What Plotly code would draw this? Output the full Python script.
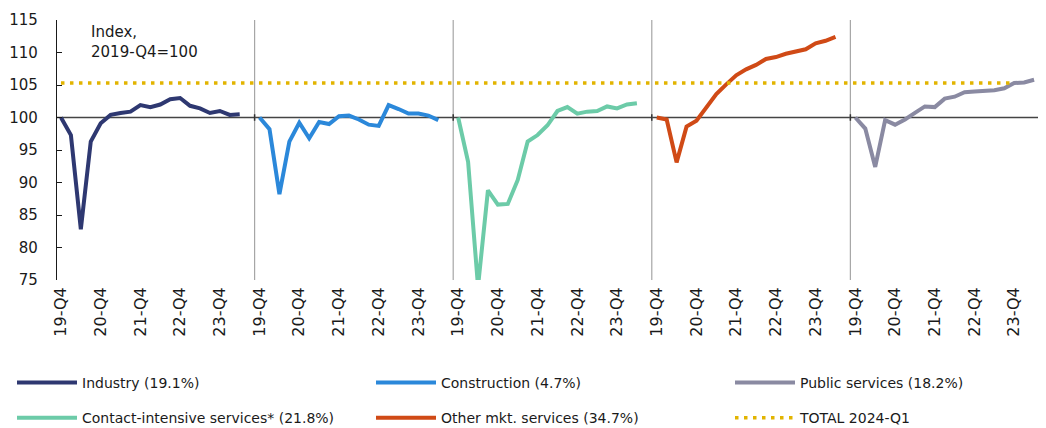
import numpy as np
import plotly.graph_objects as go

quarter_labels = ["19-Q4", "20-Q4", "21-Q4", "22-Q4", "23-Q4"]

industry = [100.0, 97.3, 82.8, 96.3, 99.1, 100.4, 100.7, 100.9, 101.9, 101.6,
            102.0, 102.8, 103.0, 101.8, 101.4, 100.7, 101.0, 100.4, 100.5]
construction = [100.0, 98.2, 88.2, 96.3, 99.2, 96.8, 99.3, 99.0, 100.2, 100.3,
                99.7, 98.9, 98.7, 101.9, 101.3, 100.6, 100.6, 100.3, 99.6]
contact = [100.0, 93.2, 74.0, 88.8, 86.6, 86.7, 90.4, 96.3, 97.3, 98.8,
           101.0, 101.6, 100.6, 100.9, 101.0, 101.7, 101.4, 102.0, 102.2]
other_mkt = [100.0, 99.7, 93.1, 98.6, 99.5, 101.6, 103.6, 105.1, 106.5, 107.4,
             108.1, 109.0, 109.3, 109.8, 110.1, 110.5, 111.4, 111.8, 112.4]
public = [100.0, 98.3, 92.4, 99.6, 98.9, 99.7, 100.7, 101.7, 101.6, 102.9,
          103.2, 103.9, 104.0, 104.1, 104.2, 104.5, 105.3, 105.4, 105.8]
total_2024q1 = 105.3

# name, values, colour, legend column, row
panels = [
    ("Industry (19.1%)", industry, "#2E3871", "legend", 1),
    ("Construction (4.7%)", construction, "#2B88DA", "legend2", 1),
    ("Contact-intensive services* (21.8%)", contact, "#6CCBA8", "legend", 2),
    ("Other mkt. services (34.7%)", other_mkt, "#D04A16", "legend2", 2),
    ("Public services (18.2%)", public, "#8A8AA2", "legend3", 1),
]
panel_len = 20

fig = go.Figure()

for p, (name, vals, color, leg, row) in enumerate(panels):
    x = p * panel_len + np.arange(len(vals))
    fig.add_trace(go.Scatter(
        x=x, y=vals, mode="lines", name=name,
        line=dict(color=color, width=4),
        legend=leg, legendrank=row, legendgroup="row%d_%s" % (row, leg),
    ))

x_total_end = 4 * panel_len + 16
fig.add_trace(go.Scatter(
    x=[0, x_total_end], y=[total_2024q1, total_2024q1], mode="lines",
    name="TOTAL 2024-Q1", line=dict(color="#E2B400", width=3.5, dash="3.5px,5.5px"),
    legend="legend3", legendrank=2, legendgroup="row2_legend3",
))

tickvals = []
ticktext = []
for p in range(5):
    for k, lab in enumerate(quarter_labels):
        tickvals.append(p * panel_len + 4 * k)
        ticktext.append(lab)

shapes = []
shapes.append(dict(type="line", xref="paper", yref="y", x0=0, x1=1, y0=100, y1=100,
                   line=dict(color="#444444", width=1.5), layer="below"))
for p in range(1, 5):
    xb = p * panel_len - 0.5
    shapes.append(dict(type="line", xref="x", yref="paper", x0=xb, x1=xb, y0=0, y1=1,
                       line=dict(color="#A6A6A6", width=1.2), layer="below"))
    shapes.append(dict(type="line", xref="x", yref="y", x0=xb, x1=xb, y0=99.5, y1=100.5,
                       line=dict(color="#333333", width=1.5), layer="below"))

# The page body has an 8px margin, so the figure sits at (8, 8) in the window.
OFF = 8
W, H = 1046 - OFF, 428 - OFF
plot_left, plot_top, plot_bottom, plot_right = 57, 20, 280, 1046  # window pixels
ml = plot_left - OFF
mt = plot_top - OFF
mb = (428 - plot_bottom)
mr = 1046 - plot_right
pw = plot_right - plot_left
ph = plot_bottom - plot_top

def px_x(px):
    return (px - plot_left) / pw

def px_y(py):
    return (plot_bottom - py) / ph

FONT = "DejaVu Sans"

def col_legend(xpx):
    return dict(orientation="v", x=px_x(xpx), y=px_y(367), xanchor="left", yanchor="top",
                itemwidth=60, tracegroupgap=14, font=dict(size=14, family=FONT),
                bgcolor="rgba(0,0,0,0)", traceorder="grouped")

fig.update_layout(
    width=W, height=H,
    margin=dict(l=ml, r=mr, t=mt, b=mb, autoexpand=False),
    paper_bgcolor="white", plot_bgcolor="white",
    font=dict(family=FONT, size=14, color="#1a1a1a"),
    showlegend=True,
    shapes=shapes,
    xaxis=dict(range=[-0.4, 99.2], showgrid=False, zeroline=False, showline=False,
               automargin=False,
               tickmode="array", tickvals=tickvals, ticktext=ticktext,
               tickangle=-90, ticks="", tickfont=dict(size=16), ticklabelstandoff=3),
    yaxis=dict(range=[75, 115], showgrid=False, zeroline=False, showline=True,
               automargin=False,
               linecolor="#1a1a1a", linewidth=1.2, ticks="inside", ticklen=5,
               tickcolor="#1a1a1a", tickvals=list(range(75, 116, 5)),
               tickfont=dict(size=15), ticklabelstandoff=15),
    legend=col_legend(12),
    legend2=col_legend(371),
    legend3=col_legend(730),
    annotations=[dict(text="Index,<br>2019-Q4=100", xref="paper", yref="paper",
                      x=px_x(89), y=px_y(21), xanchor="left", yanchor="top",
                      showarrow=False, align="left", font=dict(size=15))],
)

fig.write_html("out.html")
